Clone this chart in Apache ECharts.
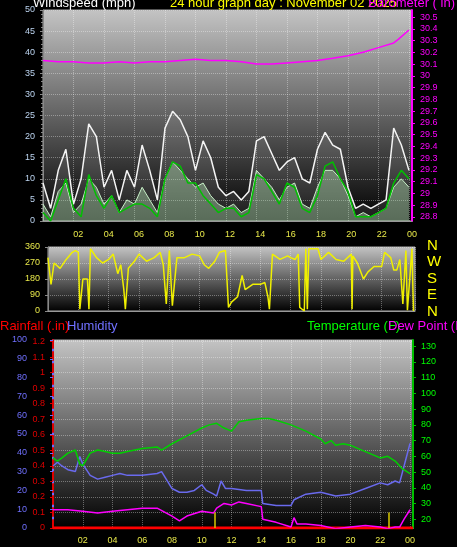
<!DOCTYPE html>
<html><head><meta charset="utf-8">
<script src="https://cdn.jsdelivr.net/npm/echarts@6/dist/echarts.min.js"></script>
<style>html,body{margin:0;padding:0;background:#000}#c{width:457px;height:547px}</style>
</head><body><div id="c"></div>
<script>
const hours = [0,0.5,1,1.5,2,2.5,3,3.5,4,4.5,5,5.5,6,6.5,7,7.5,8,8.5,9,9.5,10,10.5,11,11.5,12,12.5,13,13.5,14,14.5,15,15.5,16,16.5,17,17.5,18,18.5,19,19.5,20,20.5,21,21.5,22,22.5,23,23.5,24];
const windGust = [9,3,12,17,4,10,23,20,8,12,5,12,8,18,12,5,22,26,24,20,12,19,15,8,6,7,5,7,19,20,16,12,14,15,10,9,17,21,18,17,8,3,4,3,4,5,22,18,12];
const windAvg  = [4,1,7,9,2,4,10,8,4,6,2,5,4,8,5,2,10,14,12,10,8,9,6,4,3,4,2,3,12,10,8,5,8,9,4,3,8,12,12,10,6,1,2,1,2,3,8,10,8];
const windAvgLine = [2,0,5,10,3,1,11,6,3,6,2,3,4,4,3,1,10,14,13,9,9,6,4,2,3,3,1,2,11,10,7,4,9,8,3,2,6,13,14,10,7,1,1,1,2,3,9,12,10];
const baroHours = [0,1,2,3,4,5,6,7,8,9,10,11,12,13,14,15,16,17,18,19,20,21,22,23,23.3,24];
const baro = [30.13,30.12,30.12,30.11,30.11,30.12,30.11,30.12,30.12,30.13,30.14,30.13,30.13,30.12,30.10,30.10,30.11,30.12,30.13,30.15,30.17,30.20,30.24,30.28,30.31,30.39];
const dirPts = [[0,300],[0.2,150],[0.4,270],[0.8,240],[1.2,290],[1.6,330],[1.8,340],[2.0,330],[2.1,10],[2.3,180],[2.6,180],[2.7,10],[2.8,350],[3.2,300],[3.6,270],[4,290],[4.3,320],[4.6,210],[4.8,260],[5,120],[5.1,10],[5.3,240],[5.7,280],[6,320],[6.5,280],[7,300],[7.4,330],[7.6,260],[7.8,40],[8,340],[8.2,30],[8.5,300],[9,300],[9.5,320],[10,310],[10.3,260],[10.6,240],[11,280],[11.3,330],[11.7,340],[11.9,20],[12.1,50],[12.5,80],[12.8,200],[13,120],[13.5,150],[14,150],[14.3,160],[14.5,80],[14.6,10],[14.8,320],[15.3,290],[15.8,310],[16,300],[16.3,290],[16.5,320],[16.6,20],[16.9,0],[17.0,350],[17.1,10],[17.2,350],[17.8,350],[18,290],[18.5,330],[19,290],[19.5,280],[20,320],[20.05,10],[20.1,310],[20.4,270],[20.8,180],[21.1,220],[21.5,250],[22,250],[22.2,330],[22.6,300],[22.8,230],[23,230],[23.2,290],[23.4,40],[23.6,340],[23.7,5],[24,350],[24.1,0]];
const tempPts = [[0,59],[0.3,57],[0.6,59],[1,62],[1.5,64],[1.8,55],[2,54],[2.5,62],[3,64],[3.5,63],[4,62],[4.5,62],[5,63],[6,65],[7,66],[7.3,64],[8,68],[9,73],[10,78],[10.5,80],[11,81],[11.5,78],[12,76],[12.5,82],[13,83],[14,84],[14.5,84],[15,83],[16,80],[17,76],[18,71],[18.3,68],[18.7,70],[19,67],[19.5,68],[20,67],[21,63],[22,59],[22.5,60],[23,57],[23.5,52],[24,49]];
const humPts = [[0,33],[0.3,35],[0.6,33],[1,31],[1.5,30],[1.8,38],[2,34],[2.5,28],[3,26],[3.5,27],[4,28],[4.5,29],[5,28],[6,28],[7,29],[7.3,30],[8,21],[8.5,19],[9,19],[9.5,20],[10,23],[10.3,20],[10.8,18],[11,17],[11.3,25],[11.6,21],[12,21],[13,20],[14,20],[14.1,13],[15,12],[16,12],[16.2,15],[17,18],[18,19],[19,17],[20,18],[21,21],[22,24],[22.5,23],[23,25],[23.3,24],[23.6,33],[24,45]];
const dewPts = [[0,26],[1,26],[2,25],[3,24],[4,25],[5,26],[6,27],[7,27],[8,22],[8.5,19],[9,22],[10,25],[10.8,24],[11,27],[11.5,30],[12,29],[12.5,31],[13,30],[14,28],[14.1,20],[15,18],[16,15],[16.2,21],[16.4,17],[17,17],[18,16],[19,14],[20,15],[21,16],[22,15],[22.5,14],[23,15],[23.3,15],[23.6,20],[24,26]];
const rainPts = [[0,0],[24.2,0]];
const sunMarks = [10.9, 22.6];
const sunMarkTop = 0.1;
const dirLabels = ['N','W','S','E','N'];

const grad = {type:'linear',x:0,y:0,x2:0,y2:1,colorStops:[{offset:0,color:'#c4c4c4'},{offset:1,color:'#000'}]};
const hourFmt = v => v===0 ? '' : (v%24===0 ? '00' : String(v).padStart(2,'0'));
const gl = {show:true,lineStyle:{color:'rgba(255,255,255,0.35)',type:'dotted'}};
const F = '13px "Liberation Sans"';
function xa(gi, show, pos){
  return {type:'value',gridIndex:gi,min:0,max:24.2,interval:2,position:pos||'bottom',
    axisLine:{show:true,lineStyle:{color:'#999'}},axisTick:{show:false},
    axisLabel:{show:show,color:'#e8e84a',fontSize:9,formatter:hourFmt,showMaxLabel:false},
    splitLine:gl};
}
const ch = echarts.init(document.getElementById('c'));
ch.setOption({
  backgroundColor:'#000',animation:false,
  grid:[
    {left:43,right:45,top:10,height:211,show:true,backgroundColor:grad,borderColor:'#aaa'},
    {left:48,right:42,top:247,height:64,show:true,backgroundColor:grad,borderColor:'#aaa'},
    {left:53,right:44,top:340,height:188,show:true,backgroundColor:grad,borderColor:'#aaa'}
  ],
  xAxis:[xa(0,false), xa(1,true,'top'), xa(2,true)],
  yAxis:[
    {type:'value',gridIndex:0,min:0,max:50,interval:5,axisLine:{show:true,lineStyle:{color:'#888'}},axisTick:{show:true,length:3},minorTick:{show:true,splitNumber:5,length:2,lineStyle:{color:'#888'}},axisLabel:{color:'#bcd4f0',fontSize:9},splitLine:gl},
    {type:'value',gridIndex:0,min:28.765,max:30.56,position:'right',axisLine:{show:true,lineStyle:{color:'#ff00ff',width:2}},axisTick:{show:true,length:3,customValues:[28.8,28.9,29,29.1,29.2,29.3,29.4,29.5,29.6,29.7,29.8,29.9,30,30.1,30.2,30.3,30.4,30.5]},axisLabel:{color:'#ff00ff',fontSize:9,customValues:[28.8,28.9,29,29.1,29.2,29.3,29.4,29.5,29.6,29.7,29.8,29.9,30,30.1,30.2,30.3,30.4,30.5],formatter:v=>String(+v.toFixed(1))},splitLine:{show:false}},
    {type:'value',gridIndex:1,min:0,max:360,interval:90,axisLine:{show:true,lineStyle:{color:'#888'}},axisTick:{show:true,length:3},axisLabel:{color:'#e8e84a',fontSize:9},splitLine:gl},
    {type:'value',gridIndex:2,min:0,max:100,interval:10,position:'left',offset:22,axisLine:{show:true,lineStyle:{color:'#6a6aff',width:2}},axisTick:{show:true,length:3,lineStyle:{color:'#6a6aff'}},axisLabel:{color:'#7070ff',fontSize:9,margin:4},splitLine:{show:false}},
    {type:'value',gridIndex:2,min:0,max:1.21,interval:0.1,position:'left',offset:0,axisLine:{show:true,lineStyle:{color:'#e00000',type:'dashed',width:2}},axisTick:{show:true,length:3,lineStyle:{color:'#e00000'}},axisLabel:{color:'#e00000',fontSize:9,formatter:v=>String(+v.toFixed(1))},splitLine:gl},
    {type:'value',gridIndex:2,min:14.4,max:134,position:'right',axisLine:{show:true,lineStyle:{color:'#00c000',width:2}},axisTick:{show:true,length:3,customValues:[20,30,40,50,60,70,80,90,100,110,120,130]},axisLabel:{color:'#00ff00',fontSize:9,customValues:[20,30,40,50,60,70,80,90,100,110,120,130]},splitLine:{show:false}}
  ],
  series:[
    {type:'line',xAxisIndex:0,yAxisIndex:0,data:hours.map((h,i)=>[h,windGust[i]]),symbol:'none',lineStyle:{color:'#f4f4f4',width:1.5},areaStyle:{color:'rgba(255,255,255,0.15)'}},
    {type:'line',xAxisIndex:0,yAxisIndex:0,data:hours.map((h,i)=>[h,windAvg[i]]),symbol:'none',lineStyle:{color:'#c8f0c8',width:1},areaStyle:{color:'rgba(190,240,190,0.55)'}},
    {type:'line',xAxisIndex:0,yAxisIndex:0,data:hours.map((h,i)=>[h,windAvgLine[i]]),symbol:'none',lineStyle:{color:'#00c000',width:1.5}},
    {type:'line',xAxisIndex:0,yAxisIndex:1,data:baroHours.map((h,i)=>[h,baro[i]]),symbol:'none',lineStyle:{color:'#ff00ff',width:1.5}},
    {type:'line',xAxisIndex:1,yAxisIndex:2,data:dirPts,symbol:'none',lineStyle:{color:'#f0f000',width:1.5}},
    {type:'line',xAxisIndex:2,yAxisIndex:4,data:rainPts,symbol:'none',lineStyle:{color:'#ff0000',width:3},
      markLine:{symbol:'none',silent:true,label:{show:false},lineStyle:{color:'#d8c800',width:1.5,type:'solid'},
        data:sunMarks.map(h=>[{coord:[h,0]},{coord:[h,sunMarkTop]}])}},
    {type:'line',xAxisIndex:2,yAxisIndex:3,data:humPts,symbol:'none',lineStyle:{color:'#6a6aee',width:1.5}},
    {type:'line',xAxisIndex:2,yAxisIndex:5,data:tempPts,symbol:'none',lineStyle:{color:'#00d000',width:1.5}},
    {type:'line',xAxisIndex:2,yAxisIndex:5,data:dewPts,symbol:'none',lineStyle:{color:'#ff00ff',width:1.5},
      markPoint:{symbol:'none',data:[{coord:[10.9,28],label:{show:true,formatter:'Sun Set',color:'#e8e84a',fontSize:8}}]}}
  ],
  graphic:[
    {type:'text',left:33,top:-3,style:{text:'Windspeed (mph)',fill:'#fff',font:F}},
    {type:'text',left:170,top:-3,style:{text:'24 hour graph day : November 02 2025',fill:'#ffff00',font:F}},
    {type:'text',right:2,top:-3,style:{text:'Barometer ( in)',fill:'#ff00ff',font:F}},
    {type:'text',left:0,top:320,style:{text:'Rainfall (.in)',fill:'#ff0000',font:F}},
    {type:'text',left:67,top:320,style:{text:'Humidity',fill:'#7070ff',font:F}},
    {type:'text',left:307,top:320,style:{text:'Temperature (F)',fill:'#00ff00',font:F}},
    {type:'text',left:388,top:320,style:{text:'Dew Point (F)',fill:'#ff00ff',font:F}},
    ...dirLabels.map((t,i)=>({type:'text',left:427,top:238+i*16.5,style:{text:t,fill:'#ffff00',font:'15px "Liberation Sans"'}}))
  ]
});
</script></body></html>
